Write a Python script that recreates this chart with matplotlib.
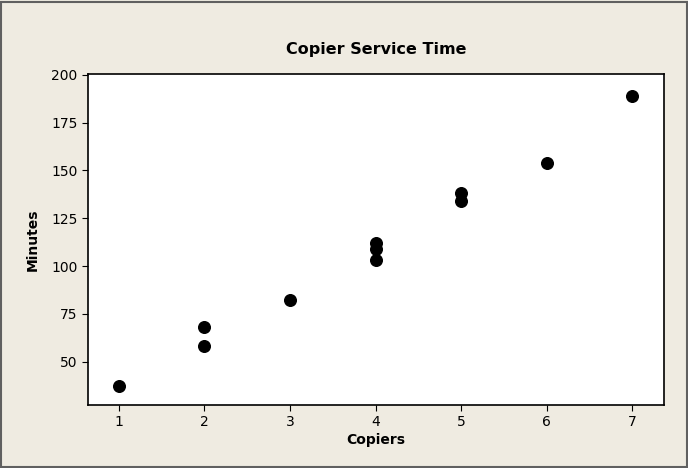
import matplotlib
matplotlib.use("Agg")
import matplotlib.pyplot as plt
from matplotlib.patches import Rectangle

copiers = [1, 2, 2, 3, 4, 4, 4, 5, 5, 6, 7]
minutes = [37, 58, 68, 82, 103, 109, 112, 134, 138, 154, 189]
yticks = [50, 75, 100, 125, 150, 175, 200]
xticks = [1, 2, 3, 4, 5, 6, 7]

bg = "#EFEBE1"
fig = plt.figure(figsize=(6.88, 4.68), dpi=100, facecolor=bg)
ax = fig.add_axes([0.128, 0.135, 0.837, 0.707])
ax.set_facecolor("white")

ax.scatter(copiers, minutes, s=70, color="black", zorder=3)

ax.set_xlim(0.64, 7.37)
ax.set_ylim(27.4, 200.5)
ax.set_xticks(xticks)
ax.set_yticks(yticks)
ax.tick_params(labelsize=10, length=4, color="black")
for s in ax.spines.values():
    s.set_linewidth(1.2)

ax.set_title("Copier Service Time", fontsize=11.5, fontweight="bold", pad=14)
ax.set_xlabel("Copiers", fontsize=10, fontweight="bold", labelpad=3)
ax.set_ylabel("Minutes", fontsize=10, fontweight="bold", labelpad=8)

fig.patches.append(Rectangle((0.002, 0.002), 0.996, 0.993, transform=fig.transFigure,
                             fill=False, edgecolor="#606060", linewidth=1.5))

fig.savefig("out.png", dpi=100, facecolor=bg)
plt.close(fig)
